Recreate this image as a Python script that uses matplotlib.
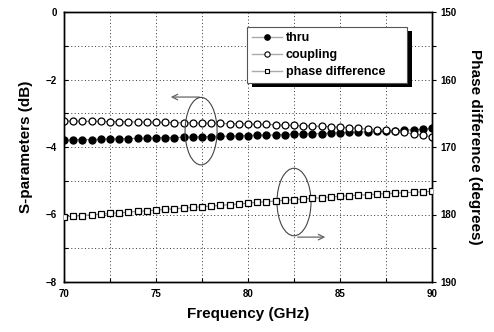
import numpy as np
import matplotlib
matplotlib.use("Agg")
import matplotlib.pyplot as plt
from matplotlib.patches import Ellipse, Rectangle
from matplotlib.transforms import IdentityTransform

plt.rcParams['font.family'] = ['Liberation Sans', 'DejaVu Sans']
plt.rcParams['font.weight'] = 'bold'

freq = [70 + 0.5 * i for i in range(41)]
thru = [-3.80, -3.79, -3.78, -3.78, -3.77, -3.76, -3.76, -3.75, -3.74, -3.74,
        -3.73, -3.72, -3.72, -3.71, -3.70, -3.70, -3.69, -3.68, -3.68, -3.67,
        -3.66, -3.65, -3.65, -3.64, -3.63, -3.62, -3.61, -3.61, -3.60, -3.59,
        -3.58, -3.57, -3.56, -3.55, -3.54, -3.53, -3.52, -3.50, -3.49, -3.47, -3.45]
coupling = [-3.23, -3.23, -3.24, -3.24, -3.24, -3.25, -3.25, -3.25, -3.26, -3.26,
            -3.27, -3.27, -3.28, -3.28, -3.29, -3.29, -3.30, -3.30, -3.31, -3.31,
            -3.32, -3.33, -3.33, -3.34, -3.35, -3.36, -3.37, -3.38, -3.39, -3.40,
            -3.42, -3.43, -3.45, -3.47, -3.49, -3.51, -3.54, -3.57, -3.61, -3.65, -3.70]
phase = [180.35, 180.25, 180.15, 180.05, 179.95, 179.85, 179.75, 179.65, 179.55, 179.45,
         179.35, 179.25, 179.15, 179.05, 178.95, 178.85, 178.75, 178.65, 178.55, 178.45,
         178.30, 178.20, 178.10, 178.00, 177.90, 177.80, 177.70, 177.60, 177.50, 177.40,
         177.30, 177.22, 177.14, 177.06, 176.98, 176.91, 176.84, 176.77, 176.70, 176.64, 176.58]
labels = ['thru', 'coupling', 'phase difference']

fig = plt.figure(figsize=(4.94, 3.32), dpi=100)
ax = fig.add_axes([64/494, 1 - 282/332, 368/494, 270/332])
ax2 = ax.twinx()

ax.plot(freq, thru, '-', color='#888888', lw=0.8, marker='o', ms=5,
        mfc='black', mec='black', zorder=3)
ax.plot(freq, coupling, '-', color='#888888', lw=0.8, marker='o', ms=5,
        mfc='white', mec='black', mew=0.9, zorder=3)
ax2.plot(freq, phase, '-', color='#888888', lw=0.8, marker='s', ms=4.3,
         mfc='white', mec='black', mew=0.9, zorder=3)

# legend proxies
h1, = ax.plot([], [], '-', color='#aaaaaa', lw=1.0, marker='o', ms=3.8, mfc='black', mec='black')
h2, = ax.plot([], [], '-', color='#aaaaaa', lw=1.0, marker='o', ms=3.8, mfc='white', mec='black', mew=0.8)
h3, = ax.plot([], [], '-', color='#aaaaaa', lw=1.0, marker='s', ms=3.5, mfc='white', mec='black', mew=0.8)

ax.set_xlim(70, 90)
ax.set_ylim(-8, 0)
ax2.set_ylim(190, 150)
ax.set_xticks([70, 75, 80, 85, 90])
ax.set_xticks(np.arange(70, 90.1, 2.5), minor=True)
ax.set_yticks([0, -2, -4, -6, -8])
ax.set_yticks(np.arange(-8, 0.1, 1), minor=True)
ax2.set_yticks([150, 160, 170, 180, 190])
ax2.set_yticks(np.arange(150, 190.1, 5), minor=True)

ax.grid(True, which='both', linestyle=(0, (1, 2.5)), color='#333333', lw=0.7)
ax.tick_params(which='both', direction='in', labelsize=7, length=3, width=0.8, top=False, pad=5)
ax2.tick_params(which='both', direction='out', labelsize=7, length=3, width=0.8, pad=3)
for a in (ax, ax2):
    for s in a.spines.values():
        s.set_linewidth(1.0)
    for lab in a.get_xticklabels() + a.get_yticklabels():
        lab.set_fontweight('bold')

ax.set_xlabel('Frequency (GHz)', fontsize=11, fontweight='bold', labelpad=6)
ax.set_ylabel('S-parameters (dB)', fontsize=11, fontweight='bold', labelpad=9)
ax2.set_ylabel('Phase difference (degrees)', fontsize=11, fontweight='bold',
               rotation=270, labelpad=18)

# legend
leg = ax.legend([h1, h2, h3], labels,
                loc='upper left', bbox_to_anchor=((247-64)/368, (282-27)/270),
                frameon=True, fancybox=False, shadow=False, framealpha=1,
                handlelength=2.4, handletextpad=0.3, borderpad=0.4, labelspacing=0.4,
                borderaxespad=0, prop={'weight': 'bold', 'size': 9})
leg.get_frame().set_edgecolor('#555555')
leg.get_frame().set_linewidth(0.8)
leg.set_zorder(10)

# annotations
ax.add_patch(Ellipse((77.45, -3.53), 1.74, 2.0, fill=False, ec='#444444', lw=0.8, zorder=4))
ax.annotate('', xy=(75.65, -2.52), xytext=(77.5, -2.52),
            arrowprops=dict(arrowstyle='->', color='#666666', lw=0.9))
ax.add_patch(Ellipse((82.5, -5.63), 1.85, 2.0, fill=False, ec='#444444', lw=0.8, zorder=4))
ax.annotate('', xy=(84.35, -6.67), xytext=(82.55, -6.67),
            arrowprops=dict(arrowstyle='->', color='#666666', lw=0.9))

# widen legend frame to the right, and draw solid black shadow offset right/down
fig.canvas.draw()
bb = leg.get_window_extent()
extra = 407 - (bb.x1)
frame_w = bb.width + max(extra, 0)
ax.add_artist(Rectangle((bb.x0 + 5, bb.y0 - 4), frame_w, bb.height, transform=IdentityTransform(),
                        facecolor='black', edgecolor='none', zorder=9.4, clip_on=False))
ax.add_artist(Rectangle((bb.x0, bb.y0), frame_w, bb.height, transform=IdentityTransform(),
                        facecolor='white', edgecolor='#555555', lw=0.8, zorder=9.6, clip_on=False))
leg.get_frame().set_visible(False)

fig.savefig('out.png', dpi=100)
